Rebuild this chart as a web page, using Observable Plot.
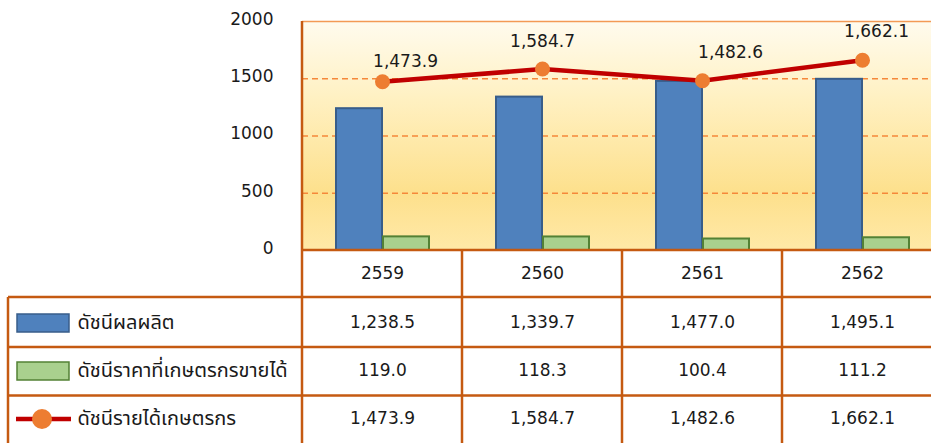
<!DOCTYPE html>
<html>
<head>
<meta charset="utf-8">
<script src="https://cdn.jsdelivr.net/npm/d3@7"></script>
<script src="https://cdn.jsdelivr.net/npm/@observablehq/plot@0.6"></script>
<style>
  html, body { margin: 0; padding: 0; background: #fff; }
  #chart { width: 931px; height: 443px; overflow: hidden; }
</style>
</head>
<body>
<div id="chart"></div>
<script>
// ---- data ----
const years = ["2559", "2560", "2561", "2562"];
const production = [1238.5, 1339.7, 1477.0, 1495.1];
const price = [119.0, 118.3, 100.4, 111.2];
const income = [1473.9, 1584.7, 1482.6, 1662.1];
const seriesNames = ["ดัชนีผลผลิต", "ดัชนีราคาที่เกษตรกรขายได้", "ดัชนีรายได้เกษตรกร"];
const yTicks = [0, 500, 1000, 1500, 2000];

// ---- layout / style constants ----
const labelNudge = [[23, -20], [0, -28], [28, -28], [14, -29]];
const rowDy = [72, 120, 168];
const border = "#c55a11";
const numFont = "'DejaVu Sans', Verdana, sans-serif";
const thaiFont = "Tahoma, 'Noto Sans Thai', 'Loma', 'Garuda', 'DejaVu Sans', sans-serif";

const rows = years.map((year, i) => ({year, production: production[i], price: price[i], income: income[i]}));
const fmt = d3.format(",.1f");
const rowKeys = ["production", "price", "income"];

const chart = Plot.plot({
  width: 931,
  height: 443,
  marginTop: 21,
  marginBottom: 193,
  marginLeft: 302,
  marginRight: 0,
  style: {fontFamily: numFont, fontSize: "17px", color: "#1a1a1a", background: "#fff"},
  x: {type: "band", domain: years, range: [302, 942], padding: 0, axis: null},
  y: {domain: [0, 2000], axis: null},
  marks: [
    Plot.frame({fill: "url(#bgGrad)", stroke: null}),
    Plot.ruleY([500, 1000, 1500], {stroke: "#f5883a", strokeWidth: 1.4, strokeDasharray: "6,4"}),
    Plot.ruleY([2000], {stroke: "#f39a55", strokeWidth: 1.5}),
    Plot.text(yTicks, {y: d => d, text: d => String(d), frameAnchor: "left", dx: -29, dy: -2, textAnchor: "end", fontSize: 17, fill: "#1a1a1a"}),
    Plot.barY(rows, {x: "year", y: "production", fill: "#4f81bd", stroke: "#385d8a", strokeWidth: 2, insetLeft: 34, insetRight: 80}),
    Plot.barY(rows, {x: "year", y: "price", fill: "#a9d08e", stroke: "#538135", strokeWidth: 2, insetLeft: 81, insetRight: 33}),
    Plot.line(rows, {x: "year", y: "income", stroke: "#c00000", strokeWidth: 4.5}),
    Plot.dot(rows, {x: "year", y: "income", r: 7.5, fill: "#ed7d31", stroke: "none"}),
    ...labelNudge.map(([dx, dy], i) =>
      Plot.text(rows.filter((d, j) => j === i), {x: "year", y: "income", text: d => fmt(d.income), dx, dy, fontSize: 17, fill: "#1a1a1a"})
    ),
    // table: header + values
    Plot.text(rows, {x: "year", text: "year", frameAnchor: "bottom", lineAnchor: "middle", dy: 23, fontSize: 17, fill: "#1a1a1a"}),
    ...rowKeys.map((k, r) =>
      Plot.text(rows, {x: "year", text: d => fmt(d[k]), frameAnchor: "bottom", lineAnchor: "middle", dy: rowDy[r], fontSize: 17, fill: "#1a1a1a"})
    ),
    ...seriesNames.map((name, r) =>
      Plot.text([name], {text: d => d, frameAnchor: "bottom-left", lineAnchor: "middle", dx: -225, dy: rowDy[r], textAnchor: "start", fontSize: 20, fontFamily: thaiFont, fill: "#1a1a1a"})
    )
  ]
});

document.getElementById("chart").appendChild(chart);

// gradient definition for the plot background
const svg = d3.select(chart.tagName.toLowerCase() === "svg" ? chart : chart.querySelector("svg"));
const defs = svg.insert("defs", ":first-child");
const grad = defs.append("linearGradient").attr("id", "bgGrad").attr("x1", 0).attr("y1", 0).attr("x2", 0).attr("y2", 1);
[[0, "#fffbee"], [0.35, "#fff0c0"], [0.75, "#fde08c"], [1, "#ffe9a8"]].forEach(([o, c]) =>
  grad.append("stop").attr("offset", o).attr("stop-color", c));

// table grid and legend swatches, positioned from the Plot scales
const xs = chart.scale("x");
const ys = chart.scale("y");
const y0 = ys.apply(0);
const yTop = ys.apply(2000);
const g = svg.append("g");
const lineYs = [y0 + 47, y0 + 97, y0 + 145.5];
const bottom = 443;
const left = 8;
const right = 931;
// horizontal table lines
lineYs.forEach(y => g.append("line").attr("x1", left).attr("x2", right).attr("y1", y).attr("y2", y)
  .attr("stroke", border).attr("stroke-width", 2.5));
// zero line
g.append("line").attr("x1", xs.apply(years[0])).attr("x2", right).attr("y1", y0).attr("y2", y0)
  .attr("stroke", border).attr("stroke-width", 2.5);
// left table border
g.append("line").attr("x1", left).attr("x2", left).attr("y1", lineYs[0]).attr("y2", bottom)
  .attr("stroke", border).attr("stroke-width", 2.5);
// chart left border (axis)
g.append("line").attr("x1", xs.apply(years[0])).attr("x2", xs.apply(years[0])).attr("y1", yTop).attr("y2", bottom)
  .attr("stroke", border).attr("stroke-width", 2.5);
// column dividers
years.slice(1).forEach(yr => g.append("line").attr("x1", xs.apply(yr)).attr("x2", xs.apply(yr)).attr("y1", y0).attr("y2", bottom)
  .attr("stroke", border).attr("stroke-width", 2.5));
// legend swatches
const sw = svg.append("g");
sw.append("rect").attr("x", 17).attr("y", y0 + 64).attr("width", 52).attr("height", 18)
  .attr("fill", "#4f81bd").attr("stroke", "#385d8a").attr("stroke-width", 1.5);
sw.append("rect").attr("x", 17).attr("y", y0 + 112).attr("width", 52).attr("height", 18)
  .attr("fill", "#a9d08e").attr("stroke", "#538135").attr("stroke-width", 1.5);
sw.append("line").attr("x1", 16).attr("x2", 71).attr("y1", y0 + 169).attr("y2", y0 + 169)
  .attr("stroke", "#c00000").attr("stroke-width", 4.5);
sw.append("circle").attr("cx", 42).attr("cy", y0 + 169).attr("r", 10).attr("fill", "#ed7d31");
</script>
</body>
</html>
